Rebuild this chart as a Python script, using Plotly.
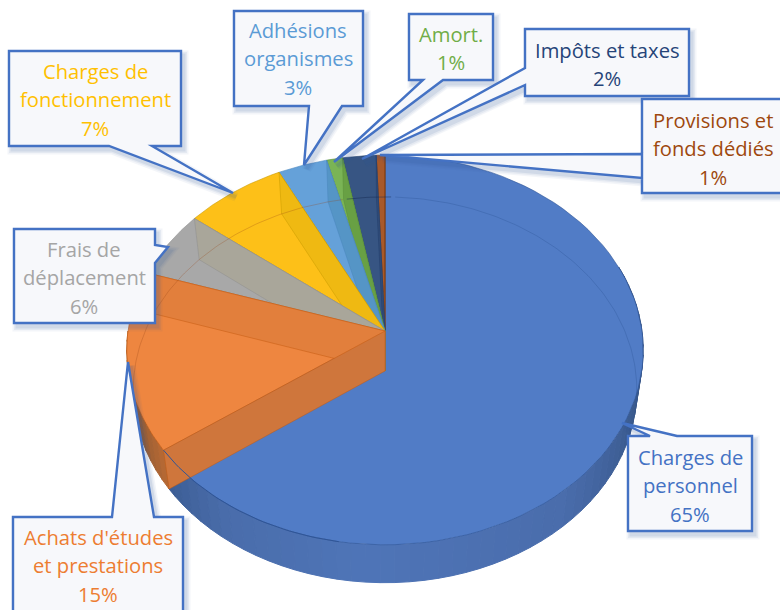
import numpy as np
import plotly.graph_objects as go

# ---- data -----------------------------------------------------------------
names = ["Charges de<br>personnel", "Achats d'études<br>et prestations", "Frais de<br>déplacement",
         "Charges de<br>fonctionnement", "Adhésions<br>organismes", "Amort.", "Impôts et taxes",
         "Provisions et<br>fonds dédiés"]
values = [65.1, 14.9, 5.6, 7.0, 3.4, 1.1, 2.3, 0.6]

top_colors = ["#517cc6", "#ee8640", "#a8a8a8", "#fdc018", "#65a1d9", "#7ab455", "#375583", "#a8592a"]
wall_colors = ["#3f62a0", "#e27f3c", "#a9a69a", "#efb912", "#5595c6", "#68a044", "#314c78", "#9e4f22"]
edge_colors = ["#2f5597", "#c55a11", "#8f8f8f", "#c99a00", "#4a86bd", "#5b8f38", "#223f6c", "#843c0c"]
text_colors = ["#4472c4", "#ed7d31", "#a5a5a5", "#ffc000", "#5b9bd5", "#70ad47", "#264478", "#9e480e"]

# ---- projection of the 3D disc ----------------------------------------------
cx, cy, a, b, k, depth = 385, 331, 193, 257, 0.0974, 40
low_x, low_y = 0.975, 0.99


def proj(theta_deg, z=0.0):
    t = np.radians(np.asarray(theta_deg, dtype=float))
    w = 1 + k * np.cos(t)
    sx = 1 + (low_x - 1) * z
    sy = 1 + (low_y - 1) * z
    return cx + sx * b * np.sin(t) / w, cy - sy * a * np.cos(t) / w + z * depth


cum = np.concatenate([[0], np.cumsum(values)]) * 360 / sum(values)
fig = go.Figure()


def poly(xs, ys, fill, line=None, width=1):
    fig.add_trace(go.Scatter(x=list(xs), y=list(ys), mode="lines", fill="toself", fillcolor=fill,
                             line=dict(color=line or fill, width=width), hoverinfo="skip", showlegend=False))


def curve(xs, ys, color, width=1):
    fig.add_trace(go.Scatter(x=list(xs), y=list(ys), mode="lines", line=dict(color=color, width=width),
                             hoverinfo="skip", showlegend=False))


def top_face(i):
    th = np.linspace(cum[i], cum[i + 1], 80)
    x, y = proj(th)
    poly(np.r_[cx, x, cx], np.r_[cy, y, cy], top_colors[i], edge_colors[i], 0.6)


def end_wall(i, angle, color):
    x0, y0 = proj(angle, 0)
    x1, y1 = proj(angle, 1)
    poly([cx, x0, x1, cx, cx], [cy, y0, y1, cy + depth, cy], color, edge_colors[i], 0.5)


def outer_wall(a0, a1, stops, cols):
    rgb = np.array([[int(c[j:j + 2], 16) for j in (1, 3, 5)] for c in cols], dtype=float)
    edges = np.arange(a0, a1 + 3, 3.0)
    edges[-1] = a1
    for s, e in zip(edges[:-1], edges[1:]):
        if e <= s:
            continue
        m = (s + e) / 2
        c = [np.interp(m, stops, rgb[:, j]) for j in range(3)]
        col = "rgb(%d,%d,%d)" % tuple(c)
        th = np.linspace(s, e, 4)
        xt, yt = proj(th, 0)
        xb, yb = proj(th, 1)
        poly(np.r_[xt, xb[::-1], xt[0]], np.r_[yt, yb[::-1], yt[0]], col)


# blue: outer wall then top
outer_wall(70, cum[1], [70, 110, 140, 185, 215, cum[1]],
           ["#2f4a78", "#3a5a8e", "#4a6dac", "#4f75b8", "#4a6dab", "#3c5d94"])
top_face(0)

# back slices, painted from the top round to the orange one
for i in range(7, 1, -1):
    top_face(i)
    end_wall(i, cum[i + 1], wall_colors[i])

# orange
outer_wall(cum[1], cum[2] - 18, [cum[1], 250, cum[2] - 18],
           ["#b86a34", "#8f5a34", "#b86a30"])
top_face(1)
end_wall(1, cum[2], wall_colors[1])
end_wall(1, cum[1], "#cf763c")

# rims seen through the transparent disc
th = np.linspace(258, 460, 200)
x, y = proj(th, 1)
curve(x[th < 350], y[th < 350], "rgba(150,70,20,0.28)")
curve(x[(th >= 350) & (th <= 362)], y[(th >= 350) & (th <= 362)], "rgba(20,40,80,0.45)")
curve(x[th > 362], y[th > 362], "rgba(47,85,151,0.35)")
th = np.linspace(cum[1] - 45, cum[1], 40)
x, y = proj(th)
curve(x, y, "#2f5597", 1)

# ---- callouts ---------------------------------------------------------------
boxes = [
    (628, 436, 752, 531, [(650, 436), (622, 423), (677, 436)], "top"),
    (13, 517, 183, 625, [(112, 517), (128, 362), (154, 517)], "top"),
    (14, 229, 155, 323, [(155, 245), (168, 247), (155, 263)], "right"),
    (9, 51, 181, 146, [(152, 146), (233, 193), (109, 146)], "bottom"),
    (234, 11, 363, 106, [(342, 106), (304, 165), (309, 106)], "bottom"),
    (409, 14, 493, 80, [(443, 80), (334, 162), (423, 80)], "bottom"),
    (525, 29, 689, 96, [(525, 85), (362, 159), (525, 68)], "left"),
    (642, 99, 790, 193, [(642, 154), (380, 155), (642, 178)], "left"),
]
first_line = [457, 537, 249, 71, 30, 34, 50, 120]
text_x = [690, 98, 84, 95, 298, 451, 607, 713]
line_gap = 28.3


def bubble_path(l, t, r, bt, tail, side):
    pts = [(l, t)]
    if side == "top":
        pts += tail
    pts.append((r, t))
    if side == "right":
        pts += tail
    pts.append((r, bt))
    if side == "bottom":
        pts += tail
    pts.append((l, bt))
    if side == "left":
        pts += tail
    return "M" + " L".join(f"{px},{py}" for px, py in pts) + " Z"


shapes = []
annotations = []
for i, (l, t, r, bt, tail, side) in enumerate(boxes):
    path = bubble_path(l, t, r, bt, tail, side)
    moved = bubble_path(l + 3, t + 4, r + 3, bt + 4, [(px + 3, py + 4) for px, py in tail], side)
    for w, op in ((9, 0.05), (6, 0.07), (3, 0.10)):
        shapes.append(dict(type="path", path=moved, xref="x", yref="y", layer="above", opacity=op,
                           fillcolor="#2f5597", line=dict(color="#2f5597", width=w)))
    shapes.append(dict(type="path", path=path, xref="x", yref="y", layer="above",
                       fillcolor="#f7f8fb", line=dict(color="#4472c4", width=2.4)))
    lines = names[i].split("<br>") + [f"{round(values[i])}%"]
    for j, s in enumerate(lines):
        annotations.append(dict(x=text_x[i], y=first_line[i] + j * line_gap, xref="x", yref="y", text=s,
                                showarrow=False, xanchor="center", yanchor="middle",
                                font=dict(family="Open Sans", size=20.2, color=text_colors[i])))

fig.update_layout(
    width=780, height=610, margin=dict(l=0, r=0, t=0, b=0),
    paper_bgcolor="white", plot_bgcolor="white", showlegend=False,
    xaxis=dict(range=[0, 780], visible=False, fixedrange=True),
    yaxis=dict(range=[610, 0], visible=False, fixedrange=True),
    shapes=shapes, annotations=annotations,
)
fig.write_html("out.html", post_script="document.body.style.margin='0';document.body.style.overflow='hidden';",
               config={"displayModeBar": False})
